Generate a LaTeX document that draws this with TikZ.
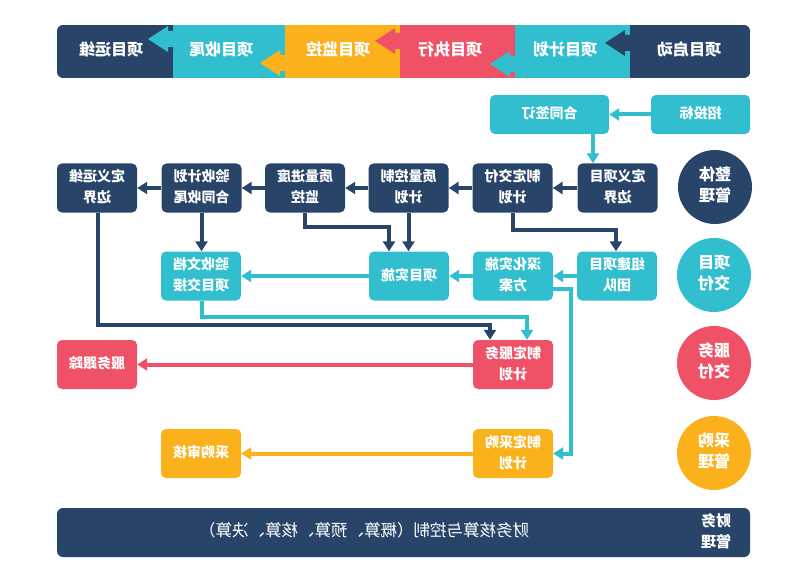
\documentclass[tikz,border=0pt]{standalone}
\usepackage{fontspec}
\usepackage{graphicx}
\usetikzlibrary{arrows.meta}
\newfontfamily\cjk{Noto Sans CJK SC}
\definecolor{navy}{RGB}{40,69,105}
\definecolor{tealc}{RGB}{49,190,206}
\definecolor{redc}{RGB}{239,82,103}
\definecolor{orng}{RGB}{251,177,27}
\newcommand{\mir}[1]{\reflectbox{\begin{tabular}{@{}c@{}}#1\end{tabular}}}
\newcommand{\barrow}[3]{\fill[#3] (#1+1,#2-8) -- (#1-5,#2-8) -- (#1-5,#2-13) -- (#1-25,#2) -- (#1-5,#2+13) -- (#1-5,#2+8) -- (#1+1,#2+8) -- cycle;}
\begin{document}
\begin{tikzpicture}[x=1pt,y=-1pt,
  font=\cjk\bfseries\fontsize{14}{21}\selectfont,
  bx/.style={rounded corners=5pt, minimum width=80pt, minimum height=49pt, inner sep=0pt, text=white},
  nb/.style={bx, fill=navy},
  tb/.style={bx, fill=tealc},
  rb/.style={bx, fill=redc},
  ob/.style={bx, fill=orng},
  circ/.style={circle, minimum size=74pt, inner sep=0pt, text=white, font=\cjk\bfseries\fontsize{16}{21}\selectfont},
  bartxt/.style={text=white, font=\cjk\bfseries\fontsize{16}{20}\selectfont},
  ln/.style={line width=4pt, -{Triangle[width=12pt,length=10pt]}},
]
\useasboundingbox (0,0) rectangle (800,588);

% top bar
\begin{scope}
\clip[rounded corners=6pt] (57,25) rectangle (750,78);
\fill[navy] (57,25) rectangle (173,78);
\fill[tealc] (173,25) rectangle (285,78);
\fill[orng] (285,25) rectangle (400,78);
\fill[redc] (400,25) rectangle (515,78);
\fill[tealc] (515,25) rectangle (630,78);
\fill[navy] (630,25) rectangle (750,78);
\barrow{630}{43}{navy}
\barrow{515}{64}{tealc}
\barrow{400}{41}{redc}
\barrow{285}{63}{orng}
\barrow{173}{39}{tealc}
\end{scope}
\node[bartxt] (p6) at (111,52) {\mir{项目运维}};
\node[bartxt] (p5) at (221,52) {\mir{项目收尾}};
\node[bartxt] (p4) at (338,52) {\mir{项目监控}};
\node[bartxt] (p3) at (450,52) {\mir{项目执行}};
\node[bartxt] (p2) at (565,52) {\mir{项目计划}};
\node[bartxt] (p1) at (689,52) {\mir{项目启动}};

% circles
\node[circ, fill=navy] (c1) at (715,187) {\mir{整体\\管理}};
\node[circ, fill=tealc] (c2) at (714,275) {\mir{项目\\交付}};
\node[circ, fill=redc] (c3) at (714,363) {\mir{服务\\交付}};
\node[circ, fill=orng] (c4) at (714,453) {\mir{采购\\管理}};

% row 2
\node[tb, minimum width=99pt, minimum height=39pt] (zb) at (700.5,114.5) {\mir{招投标}};
\node[tb, minimum width=119pt, minimum height=39pt] (ht) at (549.5,114.5) {\mir{合同签订}};

% row 3
\node[nb] (dy) at (617.5,188) {\mir{定义项目\\边界}};
\node[nb] (jf) at (512.5,188) {\mir{制定交付\\计划}};
\node[nb] (zk) at (408.5,188) {\mir{质量控制\\计划}};
\node[nb] (zj) at (305,188) {\mir{质量进度\\监控}};
\node[nb] (ys) at (201.5,188) {\mir{验收计划\\合同收尾}};
\node[nb] (dw) at (97,188) {\mir{定义运维\\边界}};

% row 4
\node[tb] (yw) at (201,276) {\mir{验收文档\\项目交接}};
\node[tb] (ss) at (409,276) {\mir{项目实施}};
\node[tb] (sh) at (513,276) {\mir{深化实施\\方案}};
\node[tb] (tt) at (617,276) {\mir{组建项目\\团队}};

% row 5
\node[rb] (fw) at (513,364.5) {\mir{制定服务\\计划}};
\node[rb] (gz) at (97,364.5) {\mir{服务跟踪}};

% row 6
\node[ob] (cg) at (513,453.5) {\mir{制定采购\\计划}};
\node[ob] (sc) at (201,453.5) {\mir{采购审核}};

% bottom bar
\node[fill=navy, rounded corners=6pt, minimum width=693pt, minimum height=49pt, inner sep=0pt] (fin) at (403.5,532.5) {};
\node[text=white, font=\cjk\fontsize{16.5}{20}\selectfont] (fint) at (364,532.5) {\mir{财务核算与控制（概算、预算、核算、决算）}};
\node[text=white, font=\cjk\bfseries\fontsize{15}{21}\selectfont] (finl) at (716,532.5) {\mir{财务\\管理}};

% connectors
\draw[ln, tealc] (zb.west) -- (ht.east);
\draw[ln, tealc] ([xshift=43.5pt]ht.south) -- ([xshift=43.5pt]ht.south |- dy.north);
\draw[ln, navy] (dy.west) -- (jf.east);
\draw[ln, navy] (jf.west) -- (zk.east);
\draw[ln, navy] (zk.west) -- (zj.east);
\draw[ln, navy] (zj.west) -- (ys.east);
\draw[ln, navy] (ys.west) -- (dw.east);
\draw[ln, navy] (jf.south) -- ++(0,17) -| ([xshift=-1pt]tt.north);
\draw[ln, navy] (zk.south) -- (zk.south |- ss.north);
\draw[ln, navy] (zj.south) -- ++(0,14) -| ([xshift=-20pt]ss.north);
\draw[ln, navy] (ys.south) -- (ys.south |- yw.north);
\draw[ln, navy] ([xshift=1pt]dw.south) -- ++(0,112.5) -| ([xshift=-23pt]fw.north);
\draw[ln, tealc] ([xshift=1pt]yw.south) -- ++(0,16) -| ([xshift=14pt]fw.north);
\draw[ln, tealc] (ss.west) -- (yw.east);
\draw[ln, tealc] (sh.west) -- (ss.east);
\draw[ln, tealc] (tt.west) -- (sh.east);
\draw[ln, tealc] ([yshift=-13pt]sh.east) -- ++(18,0) |- (cg.east);
\draw[ln, redc] (fw.west) -- (gz.east);
\draw[ln, orng] (cg.west) -- (sc.east);
\end{tikzpicture}
\end{document}
